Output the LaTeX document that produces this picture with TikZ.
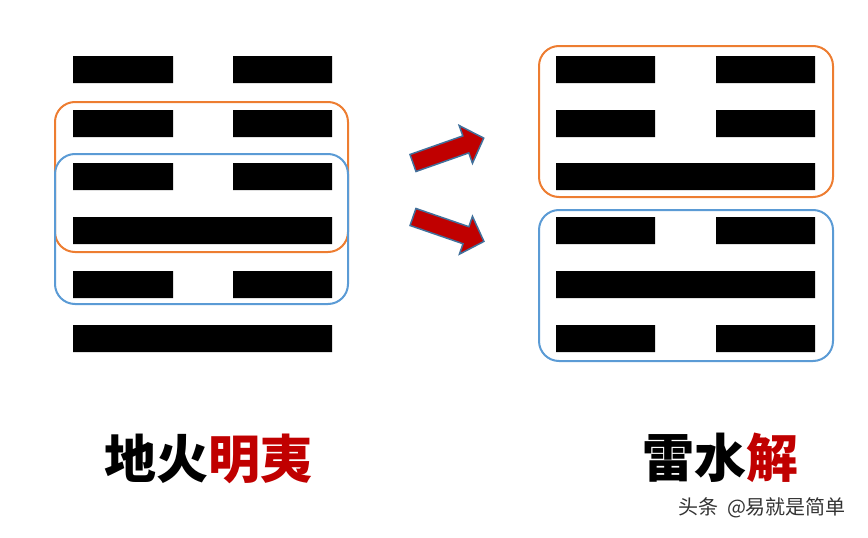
\documentclass[tikz,border=0pt]{standalone}
\usepackage{fontspec}
\usepackage{xcolor}
\newfontfamily\cjk{Noto Sans CJK SC}
\definecolor{yaored}{HTML}{C00000}
\definecolor{hexorange}{HTML}{ED7D31}
\definecolor{hexblue}{HTML}{5B9BD5}
\definecolor{arrowedge}{HTML}{41719C}
\definecolor{markgray}{HTML}{333333}
\tikzset{
	orangebox/.style={draw=hexorange, line width=2pt, rounded corners=20pt},
	bluebox/.style={draw=hexblue, line width=2pt, rounded corners=20pt},
	bigarrow/.style={draw=arrowedge, fill=yaored, line width=1.5pt, line join=miter},
	title/.style={inner sep=0pt, font=\cjk\bfseries\fontsize{52}{52}\selectfont}
}

\begin{document}
\begin{tikzpicture}[x=1pt, y=-1pt]
	\useasboundingbox (0,0) rectangle (868,538);
	\fill (73,56) rectangle (173,83) (233,56) rectangle (332,83)
		(73,110) rectangle (173,137) (233,110) rectangle (332,137)
		(73,163) rectangle (173,190) (233,163) rectangle (332,190)
		(73,217) rectangle (332,244)
		(73,271) rectangle (173,298) (233,271) rectangle (332,298)
		(73,325) rectangle (332,352);
	\fill (556,56) rectangle (655,83) (716,56) rectangle (815,83)
		(556,110) rectangle (655,137) (716,110) rectangle (815,137)
		(556,163) rectangle (815,190)
		(556,217) rectangle (655,244) (716,217) rectangle (815,244)
		(556,271) rectangle (815,298)
		(556,325) rectangle (655,352) (716,325) rectangle (815,352);
	\draw[orangebox] (55,102) rectangle (348,252);
	\draw[bluebox] (55,154) rectangle (348,304);
	\draw[orangebox] (539,46) rectangle (833,197);
	\draw[bluebox] (539,210) rectangle (833,361);
	\draw[bigarrow, shift={(413,163)}, rotate=19.4] (0,-9) -- (56,-9) -- (56,-20) -- (75,0) -- (56,20) -- (56,9) -- (0,9) -- cycle;
	\draw[bigarrow, shift={(413,217)}, rotate=-19] (0,-9) -- (56,-9) -- (56,-20) -- (75,0) -- (56,20) -- (56,9) -- (0,9) -- cycle;
	\node[title] (mingyi) at (208,459) {地火\textcolor{yaored}{明夷}};
	\node[title] (xie) at (720,458) {雷水\textcolor{yaored}{解}};
	\node[inner sep=0pt, text=markgray, font=\cjk\fontsize{20}{20}\selectfont] (mark) at (762,508) {头条\hspace{0.45em}@易就是简单};
\end{tikzpicture}
\end{document}
